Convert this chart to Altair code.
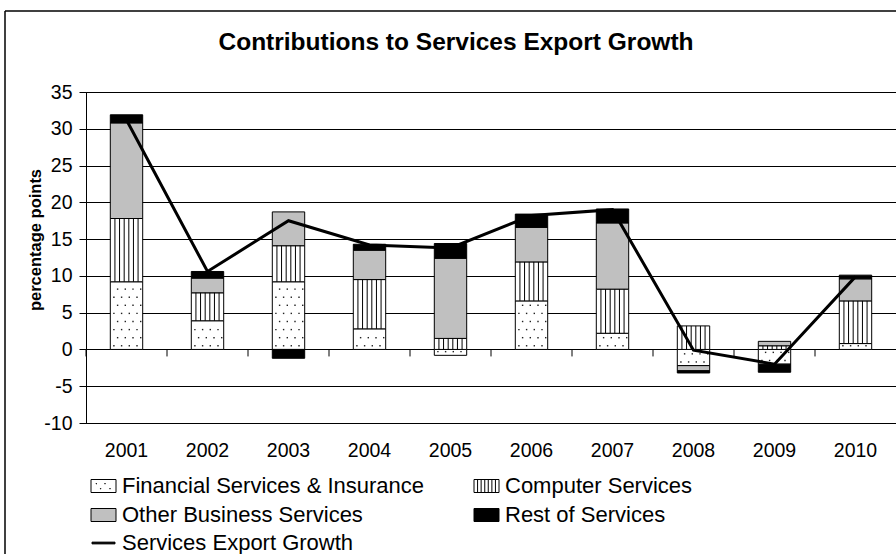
import altair as alt
import pandas as pd

years = ["2001", "2002", "2003", "2004", "2005", "2006", "2007", "2008", "2009", "2010"]
series_names = ["Financial Services & Insurance", "Computer Services",
                "Other Business Services", "Rest of Services", "Services Export Growth"]
financial = [9.2, 3.9, 9.2, 2.8, -0.8, 6.6, 2.2, -2.2, -2.0, 0.8]
computer = [8.6, 3.8, 4.9, 6.7, 1.5, 5.3, 6.0, 3.2, 0.5, 5.8]
other_business = [13.0, 2.0, 4.6, 4.0, 10.9, 4.7, 9.0, -0.7, 0.6, 3.0]
rest = [1.1, 0.9, -1.2, 0.8, 2.0, 1.8, 1.9, -0.3, -1.1, 0.5]
growth = [31.2, 10.6, 17.5, 14.2, 13.8, 18.2, 19.0, -0.1, -2.0, 9.9]
y_ticks = [-10, -5, 0, 5, 10, 15, 20, 25, 30, 35]
title_text = "Contributions to Services Export Growth"
y_title = "percentage points"

FONT = "Liberation Sans"
W, H = 810, 331
fills = ["white", "white", "#c0c0c0", "black", "black"]
fill_of = dict(zip(series_names, fills))

# stacked segments (positive upward, negative downward, in series order)
rows = []
for i, yr in enumerate(years):
    pos, neg = 0.0, 0.0
    for name, vals in zip(series_names[:4], [financial, computer, other_business, rest]):
        v = vals[i]
        if v >= 0:
            y0, y1 = pos, pos + v
            pos = y1
        else:
            y0, y1 = neg, neg + v
            neg = y1
        rows.append({"year": yr, "series": name, "y0": y0, "y1": y1})
seg = pd.DataFrame(rows)
fin_seg = seg[seg.series == series_names[0]]
comp_seg = seg[seg.series == series_names[1]]

# dot rows inside the financial segments (pattern)
dot_rows = []
for _, r in fin_seg.iterrows():
    lo, hi = min(r.y0, r.y1), max(r.y0, r.y1)
    k, yv = 0, lo + 0.5
    while yv < hi - 0.2:
        dot_rows.append({"year": r.year, "py": yv, "odd": k % 2})
        yv += 1.1
        k += 1
dot_rows = pd.DataFrame(dot_rows)
line_df = pd.DataFrame({"year": years, "growth": growth})

xs = alt.Scale(type="band", paddingInner=0, paddingOuter=0, domain=years)
ys = alt.Scale(domain=[-10, 35], nice=False, zero=False)
AX = alt.Axis(title=None, labelAngle=0, ticks=False, domain=False, grid=False,
              labelPadding=18, labelFont=FONT, labelFontSize=19.5, labelColor="black")
AY = alt.Axis(values=y_ticks, grid=True, gridColor="black", tickSize=7, tickColor="black",
              domainColor="black", labelFont=FONT, labelFontSize=19.5, labelColor="black",
              labelPadding=7, title=None, labelExpr="'' + datum.value")
X = alt.X("year:O", scale=xs, axis=AX)

bars = alt.Chart(seg).mark_bar(width={"band": 0.4}, stroke="black", strokeWidth=1).encode(
    x=X,
    y=alt.Y("y0:Q", scale=ys, axis=AY),
    y2="y1:Q",
    fill=alt.Fill("series:N", scale=alt.Scale(domain=series_names, range=fills), legend=None),
)

layers = [bars]

# dotted pattern
even_off = [-12.6, -4.9, 2.8, 10.5]
odd_off = [-8.9, -1.2, 6.5, 14.2]
for parity, offs in [(0, even_off), (1, odd_off)]:
    for o in offs:
        layers.append(
            alt.Chart(dot_rows).transform_filter(f"datum.odd == {parity}")
            .mark_square(size=2, color="#222", opacity=1, xOffset=o)
            .encode(x=X, y=alt.Y("py:Q", scale=ys, axis=AY)))

# vertical stripe pattern
for k in range(1, 7):
    o = -16.2 + 32.4 * k / 7
    layers.append(
        alt.Chart(comp_seg).mark_rule(color="black", strokeWidth=1, xOffset=o)
        .encode(x=X, y=alt.Y("y0:Q", scale=ys, axis=AY), y2="y1:Q"))

# ticks on the zero line at category boundaries
layers.append(
    alt.Chart(line_df).mark_rule(color="black", strokeWidth=1, y2Offset=7).encode(
        x=alt.X("year:O", scale=xs, axis=AX, bandPosition=0),
        y=alt.Y(datum=0, scale=ys, axis=AY), y2=alt.Y2(datum=0)))

line = alt.Chart(line_df).mark_line(color="black", strokeWidth=3).encode(
    x=X, y=alt.Y("growth:Q", scale=ys, axis=AY))
layers.append(line)

one = pd.DataFrame({"a": [0]})
layers.append(alt.Chart(one).mark_text(
    text=title_text, font=FONT, fontSize=24.5, fontWeight="bold", color="black",
    align="center", baseline="alphabetic").encode(x=alt.value(370), y=alt.value(-42)))
layers.append(alt.Chart(one).mark_text(
    text=y_title, font=FONT, fontSize=16.5, fontWeight="bold", color="black", angle=270,
    align="center", baseline="middle").encode(x=alt.value(-50), y=alt.value(148)))
layers.append(alt.Chart(one).mark_rule(color="black", strokeWidth=1.5).encode(
    x=alt.value(-81), y=alt.value(-81), y2=alt.value(470)))
layers.append(alt.Chart(one).mark_rule(color="black", strokeWidth=1.5).encode(
    x=alt.value(-81), x2=alt.value(830), y=alt.value(-81)))

# legend (symbols drawn with custom paths)
rect = "M -1 -0.52 H 1 V 0.52 H -1 Z"
dot_path = rect + " " + " ".join(
    f"M {x} {y} H {x + 0.04} V {y + 0.04} H {x} Z" for x, y in [(-0.6, -0.2), (0.1, -0.2), (-0.25, 0.2), (0.5, 0.2)])
stripe_path = rect + " " + " ".join(f"M {x} -0.52 V 0.52" for x in [-0.714, -0.43, -0.14, 0.14, 0.43, 0.714])
line_path = "M -0.92 -0.07 H 0.92 V 0.07 H -0.92 Z"
shapes = [dot_path, stripe_path, rect, rect, line_path]
leg_pos = [(17.5, 394), (400.5, 394), (17.5, 423), (400.5, 423), (17.5, 451)]
for name, shp, (lx, ly) in zip(series_names, shapes, leg_pos):
    layers.append(alt.Chart(one).mark_point(
        shape=shp, size=625, filled=True, fill=fill_of[name], stroke="black", strokeWidth=1,
        opacity=1).encode(x=alt.value(lx), y=alt.value(ly)))
    layers.append(alt.Chart(one).mark_text(
        text=name, font=FONT, fontSize=22, color="black", align="left",
        baseline="middle").encode(x=alt.value(lx + 18.5), y=alt.value(ly)))

chart = alt.layer(*layers).properties(
    width=W, height=H,
    autosize=alt.AutoSizeParams(type="none"),
    padding={"left": 86, "top": 92, "right": 0, "bottom": 131},
    background="white",
).configure_view(stroke="black", strokeWidth=1)

chart.save("out.html", embed_options={"renderer": "svg", "actions": False})
